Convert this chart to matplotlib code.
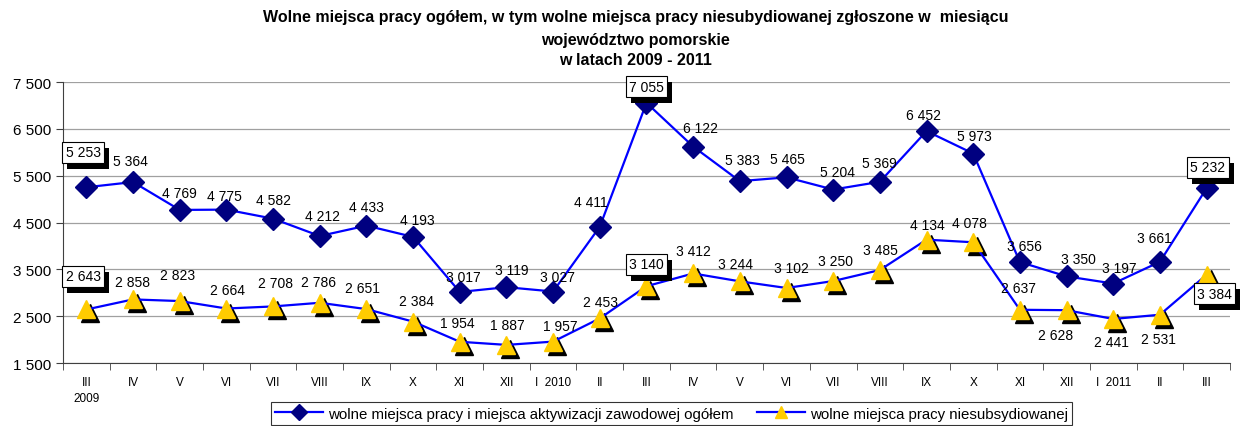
import matplotlib.pyplot as plt
import matplotlib.transforms as mtransforms
from matplotlib.patches import Rectangle
import numpy as np

plt.rcParams['font.family'] = ['Liberation Sans', 'DejaVu Sans']

months = ['III\n2009', 'IV', 'V', 'VI', 'VII', 'VIII', 'IX', 'X', 'XI', 'XII', 'I  2010', 'II',
          'III', 'IV', 'V', 'VI', 'VII', 'VIII', 'IX', 'X', 'XI', 'XII', 'I  2011', 'II', 'III']
total = [5253, 5364, 4769, 4775, 4582, 4212, 4433, 4193, 3017, 3119, 3027, 4411, 7055,
         6122, 5383, 5465, 5204, 5369, 6452, 5973, 3656, 3350, 3197, 3661, 5232]
unsub = [2643, 2858, 2823, 2664, 2708, 2786, 2651, 2384, 1954, 1887, 1957, 2453, 3140,
         3412, 3244, 3102, 3250, 3485, 4134, 4078, 2637, 2628, 2441, 2531, 3384]
boxed = [0, 12, 24]

# label offsets in pixels (dx, dy with dy down)
off_total = [(-3, -35), (-3, -21), (0, -17), (-2, -14), (0, -19), (3, -20), (0, -19), (4, -17),
             (4, -15), (5, -17), (4, -15), (-9, -25), (0, -16), (7, -19), (3, -21), (1, -18),
             (4, -18), (0, -19), (-3, -16), (1, -18), (5, -16), (12, -17), (6, -16), (-6, -24),
             (1, -21)]
off_unsub = [(-3, -33), (-1, -17), (-2, -26), (1, -19), (2, -23), (-1, -21), (-4, -21), (3, -21),
             (-2, -19), (1, -20), (7, -16), (1, -16), (0, -22), (0, -22), (-4, -17), (5, -20),
             (2, -20), (1, -20), (1, -15), (-4, -19), (-1, -22), (-11, 25), (-2, 23), (-1, 24),
             (8, 19)]


def fmt(v):
    return f"{v:,}".replace(",", " ")


fig = plt.figure(figsize=(12.46, 4.27), dpi=100)
ax = fig.add_axes([0.0506, 0.1475, 0.9365, 0.6581])
x = np.arange(len(months))

# shadow for triangles
shadow = mtransforms.offset_copy(ax.transData, fig=fig, x=4, y=-4, units='dots')
ax.plot(x, unsub, linestyle='none', marker='^', markersize=13, color='black',
        transform=shadow, zorder=3, clip_on=False)

ax.plot(x, total, color='#0000FF', linewidth=1.6, marker='D', markersize=11,
        markerfacecolor='#000080', markeredgecolor='#000080', zorder=4, clip_on=False,
        label='wolne miejsca pracy i miejsca aktywizacji zawodowej ogółem')
ax.plot(x, unsub, color='#0000FF', linewidth=1.6, marker='^', markersize=13,
        markerfacecolor='#FFCC00', markeredgecolor='#FFCC00', zorder=4, clip_on=False,
        label='wolne miejsca pracy niesubsydiowanej')

boxes = []


def put_labels(vals, offs):
    for i, v in enumerate(vals):
        dx, dy = offs[i]
        if i in boxed:
            a = ax.annotate(fmt(v), (x[i], v), xytext=(dx, -dy), textcoords='offset pixels',
                            ha='center', va='center', fontsize=10, color='black', zorder=6,
                            bbox=dict(boxstyle='square,pad=0.25', facecolor='white',
                                      edgecolor='black', linewidth=0.8),
                            annotation_clip=False)
            boxes.append(a)
        else:
            ax.annotate(fmt(v), (x[i], v), xytext=(dx, -dy), textcoords='offset pixels',
                        ha='center', va='center', fontsize=10, color='black', zorder=6,
                        annotation_clip=False)


put_labels(total, off_total)
put_labels(unsub, off_unsub)

ax.set_xlim(-0.5, len(months) - 0.5)
ax.set_ylim(1500, 7500)
yt = np.arange(1500, 7501, 1000)
ax.set_yticks(yt)
ax.set_yticklabels([fmt(v) for v in yt], fontsize=11)
ax.set_xticks(x)
ax.set_xticklabels(months, fontsize=8.5, va='top', linespacing=1.5)
ax.set_xticks(np.arange(-0.5, len(months), 1), minor=True)
ax.tick_params(axis='x', which='major', length=0, pad=9)
ax.tick_params(axis='x', which='minor', length=5, direction='out', color='#404040')
ax.tick_params(axis='y', length=5, direction='out', color='#404040')
ax.grid(axis='y', color='#A0A0A0', linewidth=0.9)
ax.set_axisbelow(True)
for s in ['top', 'right']:
    ax.spines[s].set_visible(False)
ax.spines['left'].set_color('#404040')
ax.spines['bottom'].set_color('#404040')

fig.text(0.51, 0.958, 'Wolne miejsca pracy ogółem, w tym wolne miejsca pracy niesubydiowanej zgłoszone w  miesiącu',
         ha='center', va='center', fontsize=11.5, fontweight='bold')
fig.text(0.51, 0.905, 'województwo pomorskie', ha='center', va='center', fontsize=11.5, fontweight='bold')
fig.text(0.51, 0.858, 'w latach 2009 - 2011', ha='center', va='center', fontsize=11.5, fontweight='bold')

leg = fig.legend(loc='upper center', bbox_to_anchor=(0.539, 0.056), ncol=2, fontsize=10.8,
                 frameon=True, fancybox=False, edgecolor='black', handlelength=3.2,
                 borderpad=0.3, columnspacing=1.6, handletextpad=0.3, borderaxespad=0)
leg.get_frame().set_linewidth(0.8)
leg.legend_handles[0].set_markersize(8)
leg.legend_handles[1].set_markersize(9)

# black drop shadows behind the boxed labels
fig.canvas.draw()
for a in boxes:
    bb = a.get_bbox_patch().get_window_extent()
    ax.add_patch(Rectangle((bb.x0 + 5, bb.y0 - 6), bb.width, bb.height,
                           transform=mtransforms.IdentityTransform(), facecolor='black',
                           edgecolor='none', zorder=5.5, clip_on=False))

fig.savefig('out.png', dpi=100)
